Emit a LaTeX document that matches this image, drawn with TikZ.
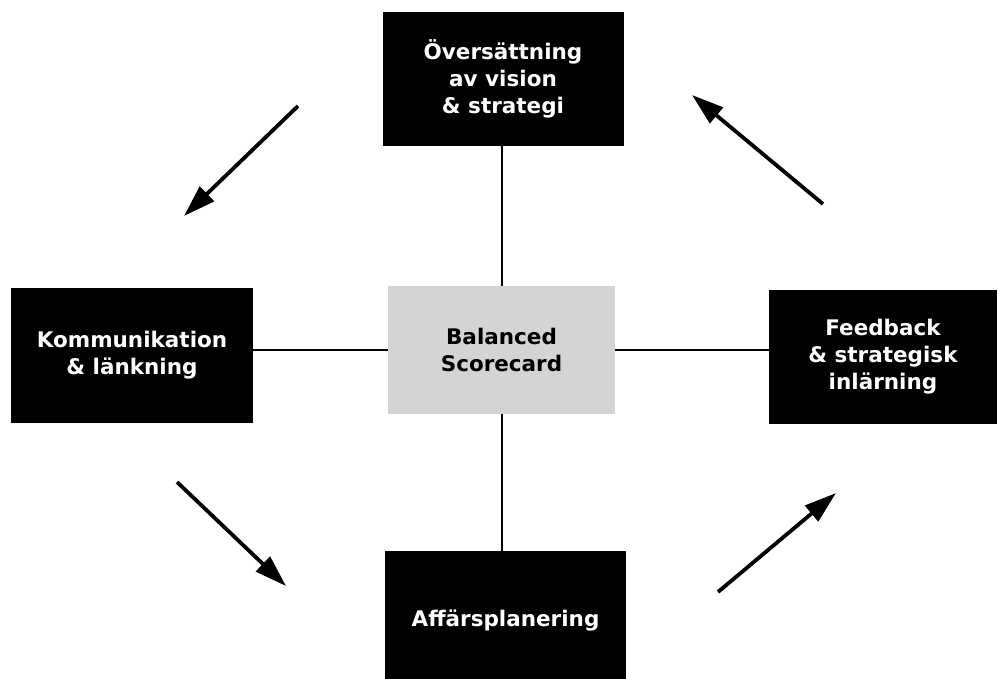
\documentclass[tikz,border=0pt]{standalone}
\usepackage{fontspec}
\setmainfont{DejaVu Sans}
\usetikzlibrary{arrows.meta}
\definecolor{boxgray}{HTML}{D4D4D4}
\begin{document}
\begin{tikzpicture}[x=1pt,y=-1pt,
  boxtext/.style={font=\fontsize{21.5}{27}\selectfont\bfseries, align=center, inner sep=0pt},
  darkbox/.style={boxtext, fill=black, text=white, draw=none},
  graybox/.style={boxtext, fill=boxgray, text=black, draw=none},
  link/.style={draw=black, line width=2pt},
  bigarrow/.style={draw=black, line width=3.8pt, -{Triangle[length=32pt,width=20pt]}}
]
\clip (0,0) rectangle (998,678);
\fill[white] (0,0) rectangle (998,678);

\node[darkbox, minimum width=241pt, minimum height=134pt] (top) at (503,79) {Översättning\\av vision\\\& strategi};
\node[darkbox, minimum width=242pt, minimum height=135pt] (left) at (132,355.5) {Kommunikation\\\& länkning};
\node[graybox, minimum width=227pt, minimum height=128pt] (cen) at (501.5,350) {Balanced\\Scorecard};
\node[darkbox, minimum width=228pt, minimum height=134pt] (right) at (883,357) {Feedback\\\& strategisk\\inlärning};
\node[darkbox, minimum width=241pt, minimum height=139pt] (bot) at (505.5,620.5) {Affärsplanering};

\draw[link] (cen.north) -- (cen.north |- top.south);
\draw[link] (cen.west) -- (cen.west -| left.east);
\draw[link] (cen.east) -- (cen.east -| right.west);
\draw[link] (cen.south) -- (cen.south |- bot.north);

\coordinate (a1s) at (298,106);
\coordinate (a1e) at (184,216);
\coordinate (a2s) at (823,204);
\coordinate (a2e) at (692,95);
\coordinate (a3s) at (177,482);
\coordinate (a3e) at (286,586);
\coordinate (a4s) at (718,592);
\coordinate (a4e) at (836,493);

\draw[bigarrow] (a1s) -- (a1e);
\draw[bigarrow] (a2s) -- (a2e);
\draw[bigarrow] (a3s) -- (a3e);
\draw[bigarrow] (a4s) -- (a4e);
\end{tikzpicture}
\end{document}
